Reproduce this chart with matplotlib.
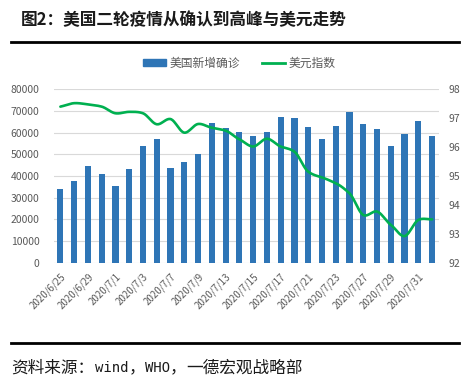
import matplotlib
matplotlib.use("Agg")
import matplotlib.pyplot as plt
import numpy as np
from matplotlib.lines import Line2D
from matplotlib.patches import Patch

plt.rcParams['font.family'] = ['Noto Sans CJK SC', 'DejaVu Sans']

dates = ["2020/6/25", "2020/6/26", "2020/6/29", "2020/6/30", "2020/7/1", "2020/7/2", "2020/7/3",
         "2020/7/6", "2020/7/7", "2020/7/8", "2020/7/9", "2020/7/10", "2020/7/13", "2020/7/14",
         "2020/7/15", "2020/7/16", "2020/7/17", "2020/7/20", "2020/7/21", "2020/7/22", "2020/7/23",
         "2020/7/24", "2020/7/27", "2020/7/28", "2020/7/29", "2020/7/30", "2020/7/31", "2020/8/3"]
new_cases = [34150, 37700, 44500, 40800, 35400, 43200, 54000, 57200, 43700, 46300, 50200,
             64500, 62300, 60200, 58600, 60200, 67100, 66800, 62500, 57100, 62900, 69400,
             64000, 61500, 54000, 59400, 65400, 58300]
dxy = [97.40, 97.52, 97.48, 97.40, 97.17, 97.22, 97.17, 96.79, 96.97, 96.50, 96.80, 96.67,
       96.57, 96.27, 96.02, 96.29, 96.02, 95.84, 95.15, 94.95, 94.75, 94.40, 93.65, 93.77,
       93.31, 92.92, 93.48, 93.50]
left_ticks = [0, 10000, 20000, 30000, 40000, 50000, 60000, 70000, 80000]
right_ticks = [92, 93, 94, 95, 96, 97, 98]

title = "图2：美国二轮疫情从确认到高峰与美元走势"
source_parts = ["资料来源：", "wind", "，", "WHO", "，", "一德宏观战略部"]

BLUE = "#2E75B6"
GREEN = "#00B050"
GRAY = "#595959"


def smooth(xs, ys, n=20):
    xs = np.asarray(xs, float)
    ys = np.asarray(ys, float)
    px = np.concatenate([[2 * xs[0] - xs[1]], xs, [2 * xs[-1] - xs[-2]]])
    py = np.concatenate([[2 * ys[0] - ys[1]], ys, [2 * ys[-1] - ys[-2]]])
    ox, oy = [], []
    t = np.linspace(0, 1, n, endpoint=False)
    for i in range(1, len(px) - 2):
        p0, p1, p2, p3 = py[i - 1], py[i], py[i + 1], py[i + 2]
        m1 = (p2 - p0) / 2 * 0.8
        m2 = (p3 - p1) / 2 * 0.8
        h00 = 2 * t**3 - 3 * t**2 + 1
        h10 = t**3 - 2 * t**2 + t
        h01 = -2 * t**3 + 3 * t**2
        h11 = t**3 - t**2
        oy.extend(h00 * p1 + h10 * m1 + h01 * p2 + h11 * m2)
        ox.extend(px[i] + t * (px[i + 1] - px[i]))
    ox.append(xs[-1])
    oy.append(ys[-1])
    return np.array(ox), np.array(oy)


fig = plt.figure(figsize=(4.72, 3.82), dpi=100)
ax = fig.add_axes([53.5 / 472, 1 - 262.7 / 382, (439 - 53.5) / 472, (262.7 - 89.3) / 382])
x = np.arange(len(dates))
ax.bar(x, new_cases, width=0.45, color=BLUE, zorder=2)
ax.set_xlim(-0.5, len(dates) - 0.5)
ax.set_ylim(0, 80000)
ax.set_yticks(left_ticks)
ax.set_yticklabels([str(v) for v in left_ticks])
ax.grid(axis='y', color="#D9D9D9", linewidth=0.8, zorder=0)
ax.set_axisbelow(True)
for s in ax.spines.values():
    s.set_visible(False)
ax.tick_params(axis='both', length=0, colors=GRAY, labelsize=7.5)
ax.tick_params(axis='y', pad=10)
ax.set_xticks(x[::2])
ax.set_xticklabels(dates[::2], rotation=45, ha='right', rotation_mode='anchor', fontsize=7)
ax.tick_params(axis='x', pad=6)

ax2 = ax.twinx()
sx, sy = smooth(x, dxy)
ax2.plot(sx, sy, color=GREEN, linewidth=1.9, zorder=3, solid_capstyle='round')
ax2.set_ylim(92, 98)
ax2.set_yticks(right_ticks)
ax2.set_yticklabels([str(v) for v in right_ticks])
for s in ax2.spines.values():
    s.set_visible(False)
ax2.tick_params(axis='y', length=0, colors=GRAY, labelsize=7.5, pad=7)

handles = [Patch(color=BLUE), Line2D([0], [0], color=GREEN, linewidth=2)]
fig.legend(handles, ["美国新增确诊", "美元指数"], loc='center', bbox_to_anchor=(0.507, 1 - 63.3 / 382),
           ncol=2, frameon=False, fontsize=8.5, labelcolor=GRAY, handlelength=2.0, handleheight=0.45,
           columnspacing=1.8, handletextpad=0.3)

fig.text(20.5 / 472, 1 - 20.5 / 382, title, fontsize=12, color="#1a1a1a", va='center', ha='left',
         fontweight='bold')
fig.add_artist(Line2D([10.5 / 472, 459 / 472], [1 - 41.7 / 382] * 2, color='black', linewidth=2))
fig.add_artist(Line2D([10.5 / 472, 459 / 472], [1 - 343.3 / 382] * 2, color='black', linewidth=2))

# source line, drawn piece by piece: full-width CJK cells and half-width latin cells
em = 12 * 100 / 72
xpos = 11.7
for part in source_parts:
    if part.isascii():
        fig.text(xpos / 472, 1 - 372.5 / 382, part, fontsize=10, color="#1a1a1a", va='baseline',
                 ha='left', family=['DejaVu Sans Mono'])
        xpos += len(part) * em * 0.5
    else:
        fig.text(xpos / 472, 1 - 372.5 / 382, part, fontsize=12, color="#1a1a1a", va='baseline',
                 ha='left', family=['Noto Sans CJK SC'])
        xpos += len(part) * em
fig.savefig("out.png", dpi=100)
